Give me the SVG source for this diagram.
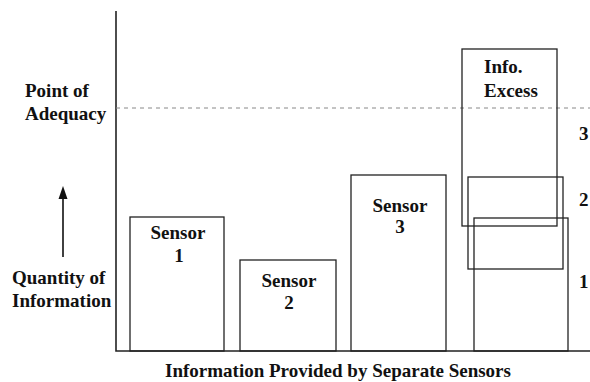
<svg xmlns="http://www.w3.org/2000/svg" width="590" height="382" viewBox="0 0 590 382">
<style>
text{font-family:"Liberation Serif","Times New Roman",serif;font-weight:bold;font-size:19px;fill:#111}
.c{text-anchor:middle}
.box{fill:none;stroke:#222;stroke-width:1.3}
.axis{stroke:#222;stroke-width:1.6;fill:none}
.dash{stroke:#888;stroke-width:1;stroke-dasharray:4 4;fill:none}
</style>
<g id="axes">
<path class="axis" d="M116,11 V351 H590"/>
<path class="dash" d="M116,108 H590"/>
</g>
<g id="connectors">
<line x1="63" y1="257" x2="63" y2="196" stroke="#111" stroke-width="1.6"/>
<polygon points="63,186 58.5,199 67.5,199" fill="#111"/>
</g>
<g id="label-adequacy">
<text x="25" y="97">Point of</text>
<text x="25" y="120">Adequacy</text>
</g>
<g id="label-quantity">
<text x="12" y="284">Quantity of</text>
<text x="12" y="307">Information</text>
</g>
<g id="sensor1">
<rect class="box" x="130" y="217" width="94" height="134"/>
<text class="c" x="178" y="239">Sensor</text>
<text class="c" x="179" y="262">1</text>
</g>
<g id="sensor2">
<rect class="box" x="240" y="260" width="96" height="91"/>
<text class="c" x="289" y="287">Sensor</text>
<text class="c" x="289" y="309">2</text>
</g>
<g id="sensor3">
<rect class="box" x="351" y="175" width="95" height="176"/>
<text class="c" x="400" y="212">Sensor</text>
<text class="c" x="400" y="233">3</text>
</g>
<g id="excess">
<rect class="box" x="462" y="49" width="95" height="177"/>
<text x="484" y="73">Info.</text>
<text x="484" y="97">Excess</text>
</g>
<g id="stack2">
<rect class="box" x="468" y="177" width="95" height="92"/>
</g>
<g id="stack1">
<rect class="box" x="474" y="218" width="94" height="133"/>
</g>
<g id="right-labels">
<text x="579" y="140">3</text>
<text x="579" y="206">2</text>
<text x="579" y="288">1</text>
</g>
<g id="title">
<text class="c" x="338" y="377">Information Provided by Separate Sensors</text>
</g>
</svg>
